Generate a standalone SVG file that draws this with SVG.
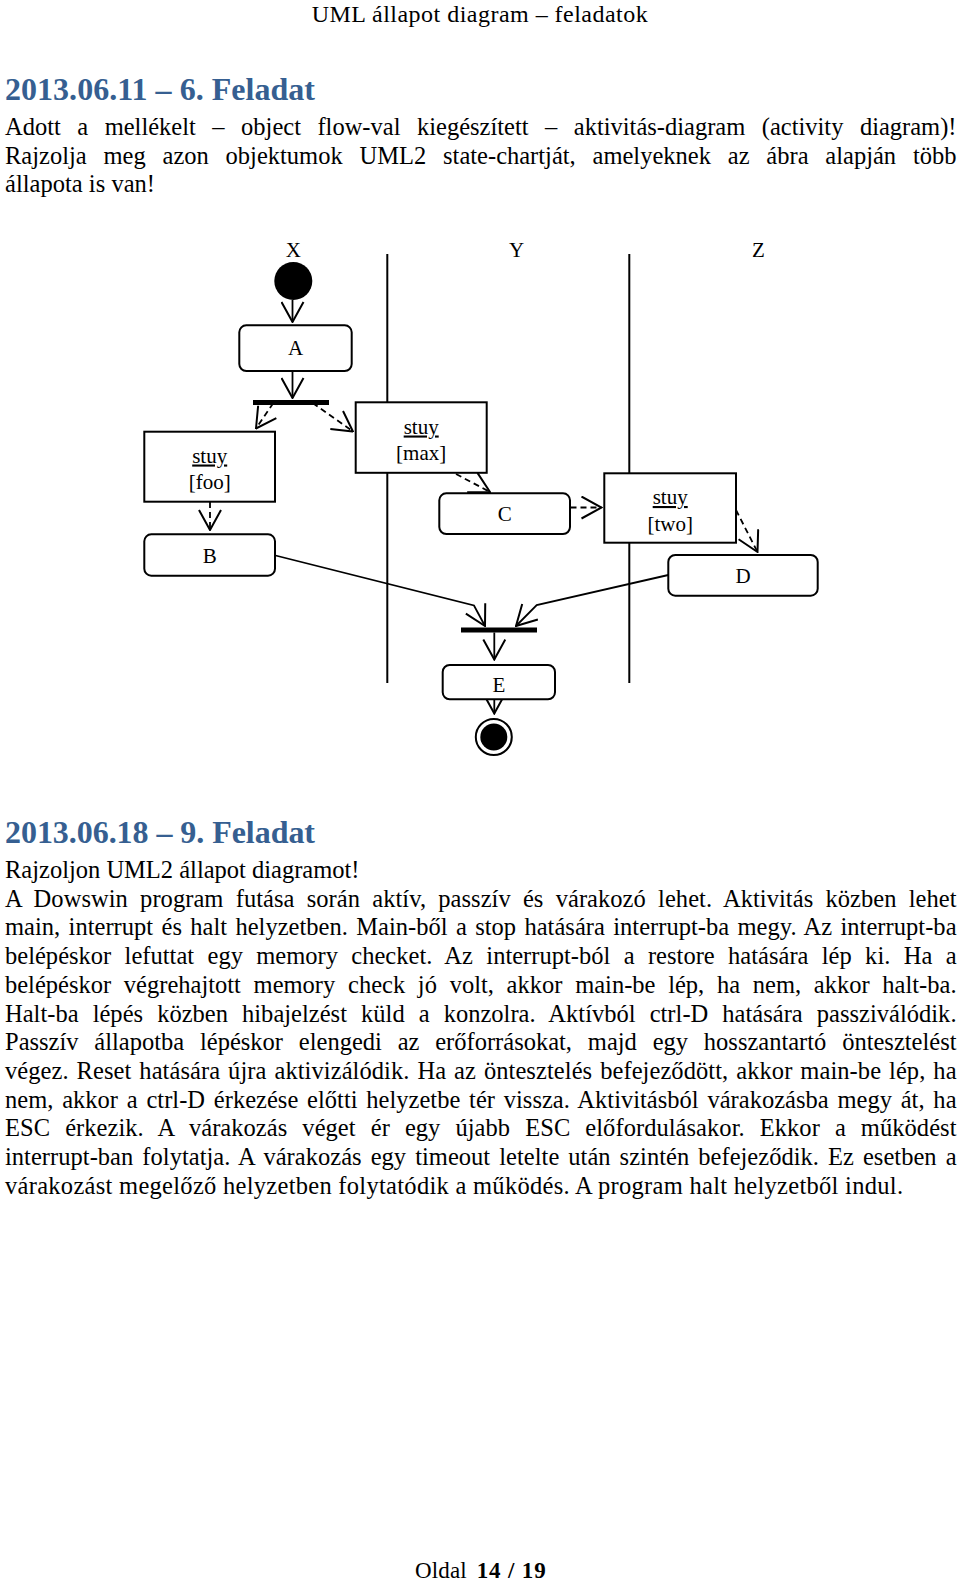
<svg xmlns="http://www.w3.org/2000/svg" width="960" height="1584" viewBox="0 0 960 1584">
<style>
.body{font-family:"Liberation Serif","Times New Roman",serif;font-size:24.5px;fill:#000}
.h{font-family:"Liberation Serif","Times New Roman",serif;font-weight:bold;font-size:32px;fill:#365F91}
.lbl{font-family:"Liberation Serif","Times New Roman",serif;font-size:21px;text-anchor:middle;fill:#000}
.box{fill:#fff;stroke:#000;stroke-width:2}
.lane{stroke:#000;stroke-width:2}
.conn{fill:none;stroke:#000;stroke-width:1.8;marker-end:url(#open)}
.dash{stroke-dasharray:6 4}
</style>
<defs>
<marker id="open" viewBox="0 0 22 24" refX="21" refY="12" markerWidth="22" markerHeight="24" markerUnits="userSpaceOnUse" orient="auto">
<path d="M1,1 L21,12 L1,23" fill="none" stroke="#000" stroke-width="2" stroke-dasharray="none"/>
</marker>
</defs>
<rect x="0" y="0" width="960" height="1584" fill="#fff"/>

<g id="page-text">
<text class="body" x="311.7" y="21.5" style="font-size:24px" textLength="336" lengthAdjust="spacing">UML állapot diagram – feladatok</text>
<text class="h" x="5" y="100" textLength="310" lengthAdjust="spacing">2013.06.11 – 6. Feladat</text>
<text class="body" x="5" y="135" word-spacing="10.36" textLength="951.5" lengthAdjust="spacing">Adott a mellékelt – object flow-val kiegészített – aktivitás-diagram (activity diagram)!</text>
<text class="body" x="5" y="163.7" word-spacing="10.71" textLength="951.5" lengthAdjust="spacing">Rajzolja meg azon objektumok UML2 state-chartját, amelyeknek az ábra alapján több</text>
<text class="body" x="5" y="192.4" textLength="150" lengthAdjust="spacing">állapota is van!</text>

<text class="h" x="5" y="843" textLength="310" lengthAdjust="spacing">2013.06.18 – 9. Feladat</text>
<text class="body" x="5" y="878">Rajzoljon UML2 állapot diagramot!</text>
<text class="body" x="5" y="906.7" word-spacing="6.03" textLength="951.5" lengthAdjust="spacing">A Dowswin program futása során aktív, passzív és várakozó lehet. Aktivitás közben lehet</text>
<text class="body" x="5" y="935.4" word-spacing="2.12" textLength="951.5" lengthAdjust="spacing">main, interrupt és halt helyzetben. Main-ből a stop hatására interrupt-ba megy. Az interrupt-ba</text>
<text class="body" x="5" y="964.1" word-spacing="7.2" textLength="951.5" lengthAdjust="spacing">belépéskor lefuttat egy memory checket. Az interrupt-ból a restore hatására lép ki. Ha a</text>
<text class="body" x="5" y="992.8" word-spacing="6.6" textLength="951.5" lengthAdjust="spacing">belépéskor végrehajtott memory check jó volt, akkor main-be lép, ha nem, akkor halt-ba.</text>
<text class="body" x="5" y="1021.5" word-spacing="7.92" textLength="951.5" lengthAdjust="spacing">Halt-ba lépés közben hibajelzést küld a konzolra. Aktívból ctrl-D hatására passziválódik.</text>
<text class="body" x="5" y="1050.2" word-spacing="9.71" textLength="951.5" lengthAdjust="spacing">Passzív állapotba lépéskor elengedi az erőforrásokat, majd egy hosszantartó öntesztelést</text>
<text class="body" x="5" y="1078.9" word-spacing="1.73" textLength="951.5" lengthAdjust="spacing">végez. Reset hatására újra aktivizálódik. Ha az öntesztelés befejeződött, akkor main-be lép, ha</text>
<text class="body" x="5" y="1107.6" word-spacing="2.64" textLength="951.5" lengthAdjust="spacing">nem, akkor a ctrl-D érkezése előtti helyzetbe tér vissza. Aktivitásból várakozásba megy át, ha</text>
<text class="body" x="5" y="1136.3" word-spacing="8.87" textLength="951.5" lengthAdjust="spacing">ESC érkezik. A várakozás véget ér egy újabb ESC előfordulásakor. Ekkor a működést</text>
<text class="body" x="5" y="1165" word-spacing="2.86" textLength="951.5" lengthAdjust="spacing">interrupt-ban folytatja. A várakozás egy timeout letelte után szintén befejeződik. Ez esetben a</text>
<text class="body" x="5" y="1193.7" textLength="898" lengthAdjust="spacing">várakozást megelőző helyzetben folytatódik a működés. A program halt helyzetből indul.</text>

<text class="body" x="415" y="1578" style="font-size:23px" textLength="51.7" lengthAdjust="spacing">Oldal</text>
<text class="body" x="476.7" y="1578" style="font-size:23px;font-weight:bold" textLength="69" lengthAdjust="spacing">14 / 19</text>
</g>

<g id="swimlanes">
<text class="lbl" x="293.3" y="257">X</text>
<text class="lbl" x="516.7" y="257">Y</text>
<text class="lbl" x="758.3" y="257">Z</text>
<line class="lane" x1="387.3" y1="254" x2="387.3" y2="683"/>
<line class="lane" x1="629.3" y1="254" x2="629.3" y2="683"/>
</g>

<g id="connectors">
<path class="conn" d="M292.5,300 L292.5,322"/>
<path class="conn" d="M292.5,371 L292.5,398"/>
<path class="conn dash" d="M273.3,403 L256,428.5"/>
<path class="conn dash" d="M312.7,403 L353,431.5"/>
<path class="conn dash" d="M456,474 L490,492"/>
<path class="conn dash" d="M570.5,507.5 L601.5,507.5"/>
<path class="conn dash" d="M736,510 L757.5,552"/>
<path class="conn dash" d="M210,502 L210,530"/>
<path class="conn" d="M275.5,555.5 L474,605.5 L485,626"/>
<path class="conn" d="M668.3,575 L536.7,605 L516,626"/>
<path class="conn" d="M494.3,632.5 L494.3,659.5"/>
<path class="conn" d="M494.3,699.3 L494.3,713.5"/>
</g>

<g id="node-initial">
<circle cx="293.3" cy="281" r="19" fill="#000"/>
</g>

<g id="node-A">
<rect class="box" x="239.3" y="325.3" width="112.4" height="45.7" rx="7"/>
<text class="lbl" x="295.5" y="355">A</text>
</g>

<g id="node-fork">
<rect x="253" y="400" width="76" height="5" fill="#000"/>
</g>

<g id="node-stuy-foo">
<rect class="box" x="144.3" y="431.7" width="130.7" height="70"/>
<text class="lbl" x="209.7" y="462.5" text-decoration="underline">stuy</text>
<text class="lbl" x="209.7" y="489">[foo]</text>
</g>

<g id="node-stuy-max">
<rect class="box" x="355.7" y="402.3" width="131" height="70.5"/>
<text class="lbl" x="421.2" y="433.5" text-decoration="underline">stuy</text>
<text class="lbl" x="421.2" y="460">[max]</text>
</g>

<g id="node-B">
<rect class="box" x="144.3" y="534.3" width="130.7" height="41.4" rx="7"/>
<text class="lbl" x="209.7" y="563">B</text>
</g>

<g id="node-C">
<rect class="box" x="439.3" y="493.3" width="130.7" height="40.7" rx="7"/>
<text class="lbl" x="504.7" y="521">C</text>
</g>

<g id="node-stuy-two">
<rect class="box" x="604.3" y="473.3" width="131.7" height="69.4"/>
<text class="lbl" x="670.2" y="504" text-decoration="underline">stuy</text>
<text class="lbl" x="670.2" y="530.5">[two]</text>
</g>

<g id="node-D">
<rect class="box" x="668.3" y="555" width="149.4" height="40.7" rx="7"/>
<text class="lbl" x="743" y="583">D</text>
</g>

<g id="node-join">
<rect x="461" y="627.5" width="76" height="5" fill="#000"/>
</g>

<g id="node-E">
<rect class="box" x="442.7" y="665" width="112.3" height="34.3" rx="7"/>
<text class="lbl" x="499" y="692">E</text>
</g>

<g id="node-final">
<circle cx="493.8" cy="737" r="18" fill="#fff" stroke="#000" stroke-width="2"/>
<circle cx="493.8" cy="737" r="13.5" fill="#000"/>
</g>
</svg>
